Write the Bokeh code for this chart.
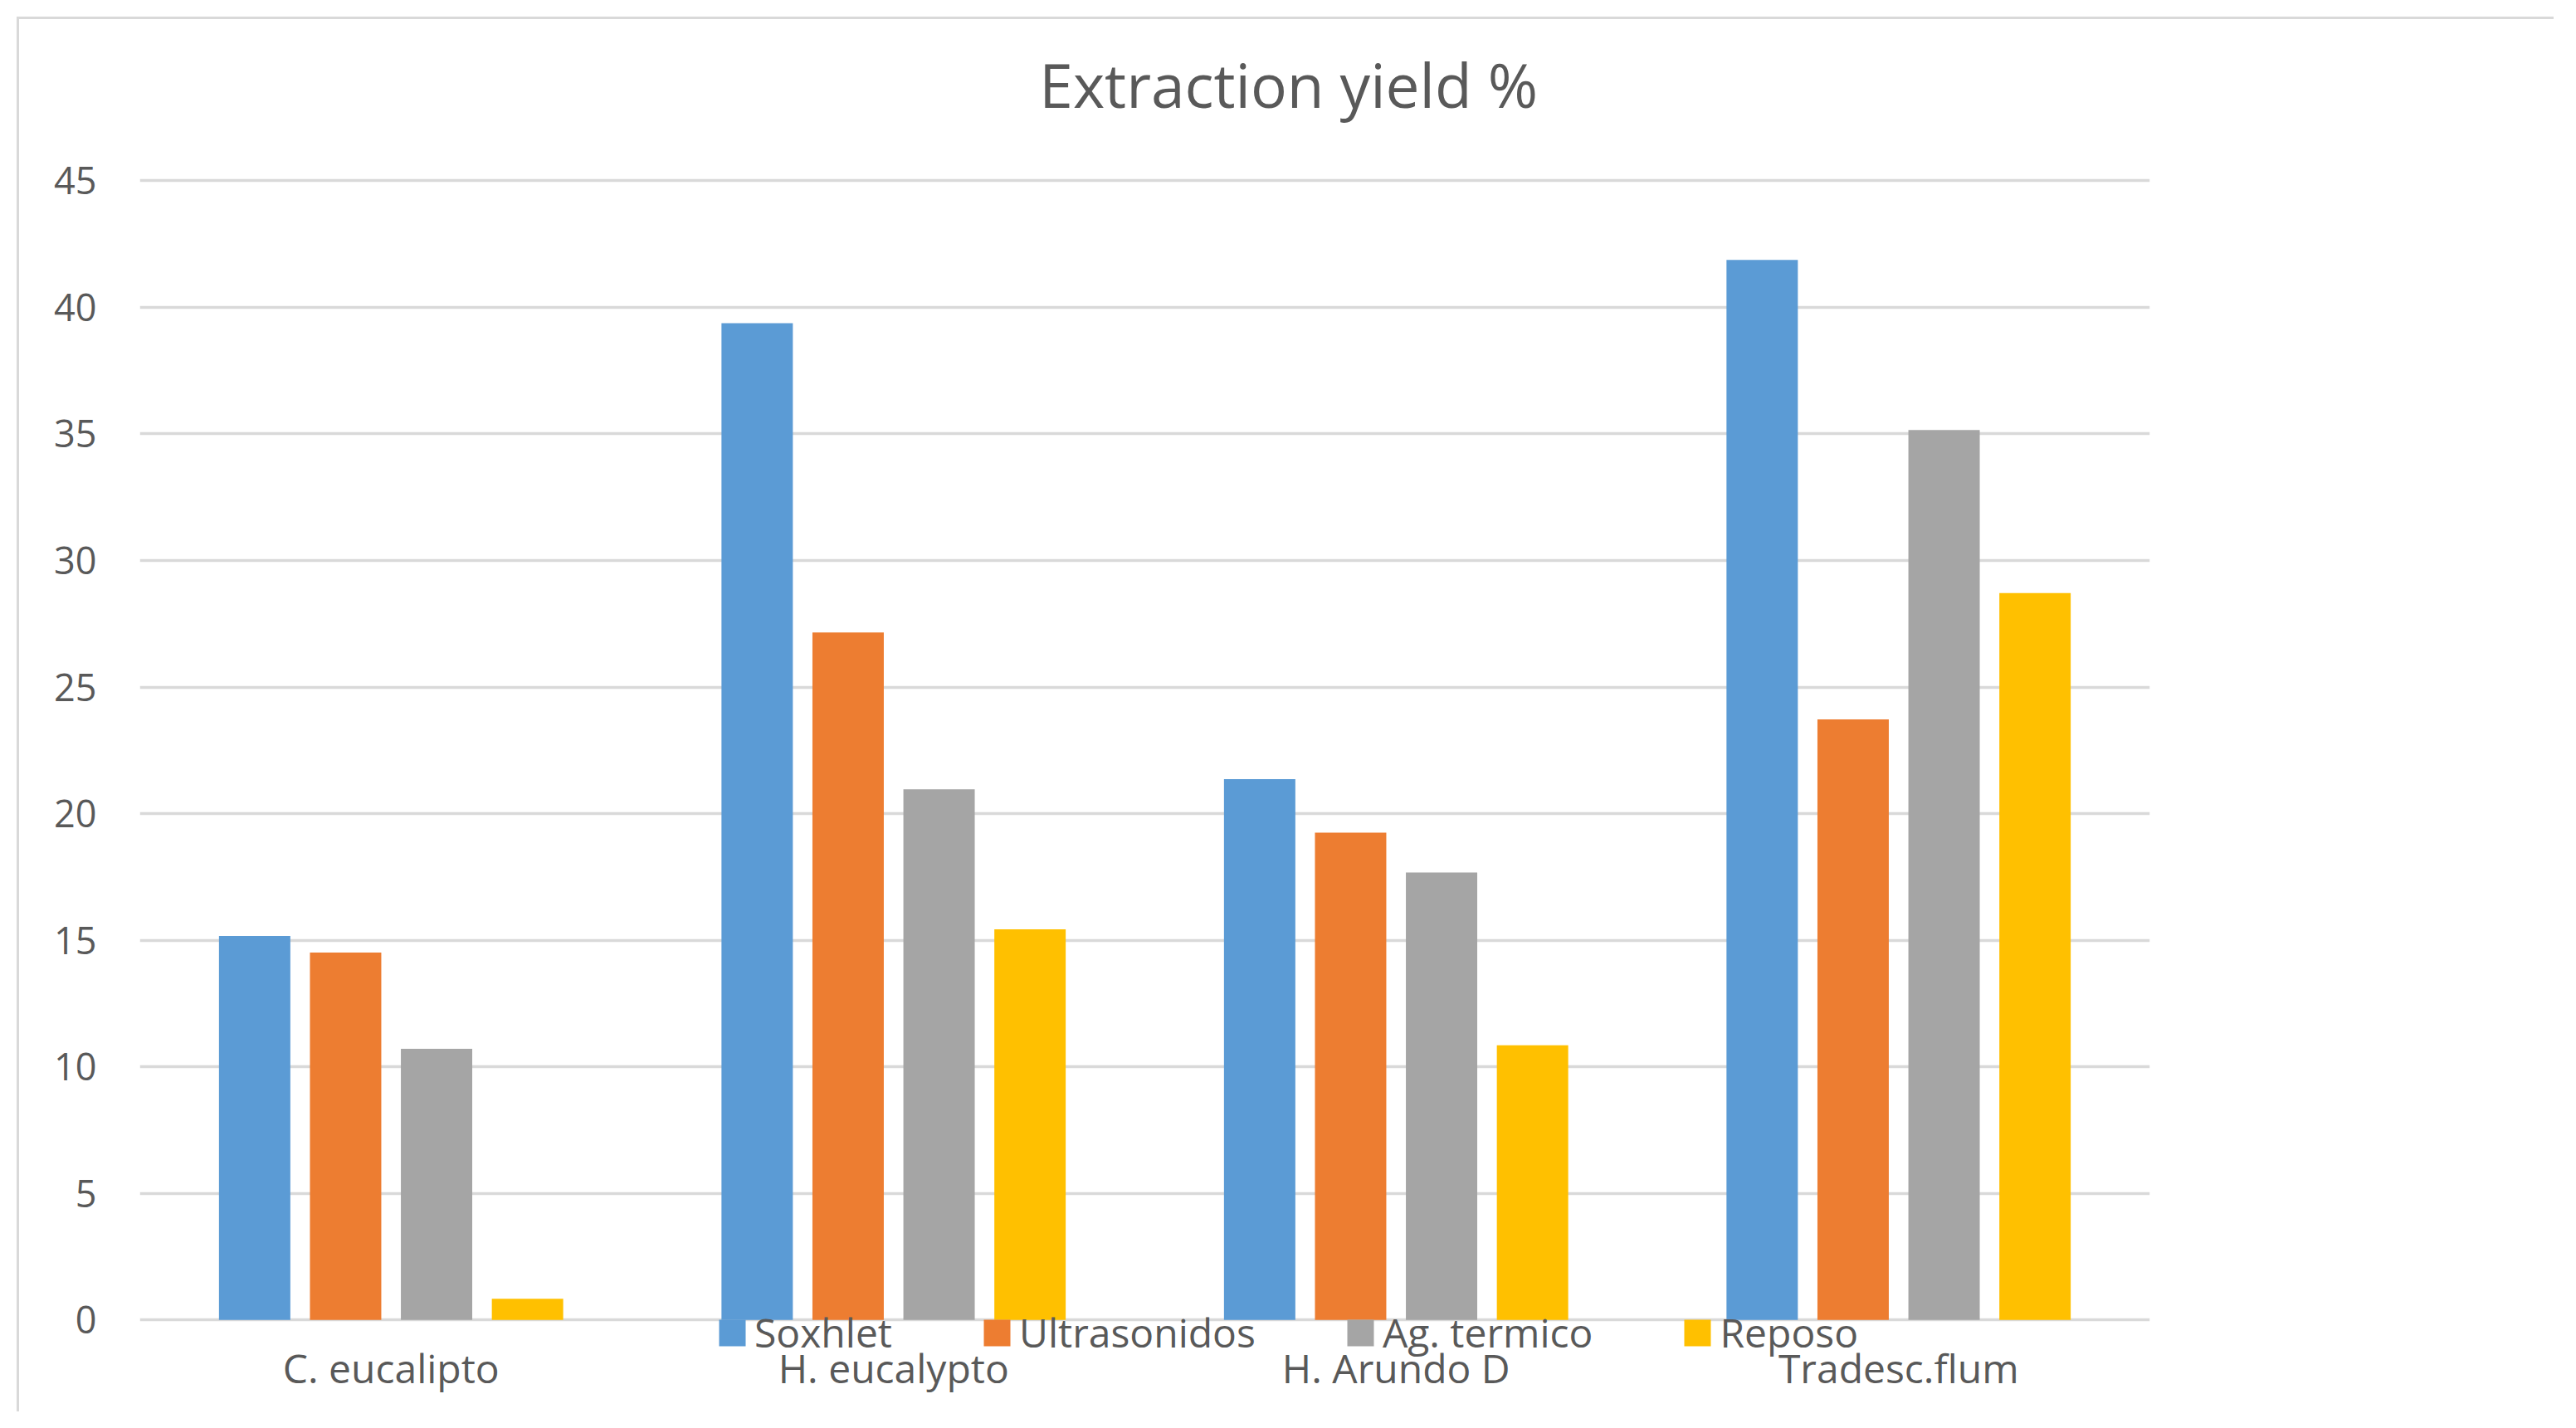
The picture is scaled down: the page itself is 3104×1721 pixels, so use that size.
from bokeh.plotting import figure
from bokeh.models import FactorRange, Range1d, Legend, LegendItem, Label, FixedTicker, ColumnDataSource
from bokeh.transform import dodge
from bokeh.embed import file_html
from bokeh.resources import INLINE

# ---- data ----
categories = ["C. eucalipto", "H. eucalypto", "H. Arundo D", "Tradesc.flum"]
series_names = ["Soxhlet", "Ultrasonidos", "Ag. termico", "Reposo"]
soxhlet = [15.17, 39.37, 21.36, 41.87]
ultrasonidos = [14.51, 27.16, 19.25, 23.72]
ag_termico = [10.71, 20.96, 17.68, 35.15]
reposo = [0.84, 15.43, 10.85, 28.71]
y_ticks = [0, 5, 10, 15, 20, 25, 30, 35, 40, 45]
title_text = "Extraction yield %"

colors = ["#5B9BD5", "#ED7D31", "#A5A5A5", "#FFC000"]
TEXT = "#595959"
GRID = "#D9D9D9"
FONT = "Open Sans"

source = ColumnDataSource(dict(cat=categories, s0=soxhlet, s1=ultrasonidos, s2=ag_termico, s3=reposo))

# the frame reaches a little above the 45 line (room for the title) and a little
# below the 0 line (room for the legend that sits on the axis, as in the original)
p = figure(
    width=3057, height=1681,
    x_range=FactorRange(*categories, range_padding=0),
    y_range=Range1d(-2.02, 50.81),
    output_backend="svg", toolbar_location=None,
    min_border_left=145, min_border_right=490, min_border_top=17, min_border_bottom=52,
    margin=(20, 0, 0, 20),
    styles={"border-top": "3px solid #D9D9D9", "border-left": "3px solid #D9D9D9"},
)
p.outline_line_color = None
p.background_fill_color = "white"
p.border_fill_color = "white"

pitch = 0.181
bar_w = 0.142
offsets = [-1.5 * pitch, -0.5 * pitch, 0.5 * pitch, 1.5 * pitch]
renderers = []
for i, (name, col) in enumerate(zip(series_names, colors)):
    r = p.vbar(x=dodge("cat", offsets[i], range=p.x_range), top="s%d" % i, width=bar_w,
               bottom=0, source=source, fill_color=col, line_color=None)
    renderers.append(r)

# axes
p.xgrid.grid_line_color = None
p.ygrid.grid_line_color = GRID
p.ygrid.grid_line_width = 3.5
p.yaxis.ticker = FixedTicker(ticks=y_ticks)
p.yaxis.axis_line_color = None
p.yaxis.major_tick_line_color = None
p.yaxis.minor_tick_line_color = None
p.yaxis.major_tick_out = 0
p.yaxis.major_label_standoff = 52
p.yaxis.major_label_text_font = FONT
p.yaxis.major_label_text_font_size = "45px"
p.yaxis.major_label_text_color = TEXT

p.xaxis.axis_line_color = None
p.xaxis.major_tick_line_color = None
p.xaxis.minor_tick_line_color = None
p.xaxis.major_tick_out = 0
p.xaxis.major_label_standoff = -37
p.xaxis.major_label_text_font = FONT
p.xaxis.major_label_text_font_size = "48px"
p.xaxis.major_label_text_color = TEXT

# title (centred on the whole chart, as in the original)
title = Label(x=2.286, y=48.8, text=title_text,
              text_align="center", text_baseline="middle",
              text_font=FONT, text_font_size="73px", text_color=TEXT)
p.add_layout(title)

legend = Legend(
    items=[LegendItem(label=n, renderers=[r]) for n, r in zip(series_names, renderers)],
    orientation="horizontal", location=(694, 14),
    glyph_width=40, glyph_height=40, label_standoff=7, spacing=106,
    padding=0, margin=0, border_line_color=None, background_fill_alpha=0,
    label_text_font=FONT, label_text_font_size="48px", label_text_color=TEXT,
)
p.add_layout(legend, "center")

open("out.html", "w").write(file_html(p, INLINE))
